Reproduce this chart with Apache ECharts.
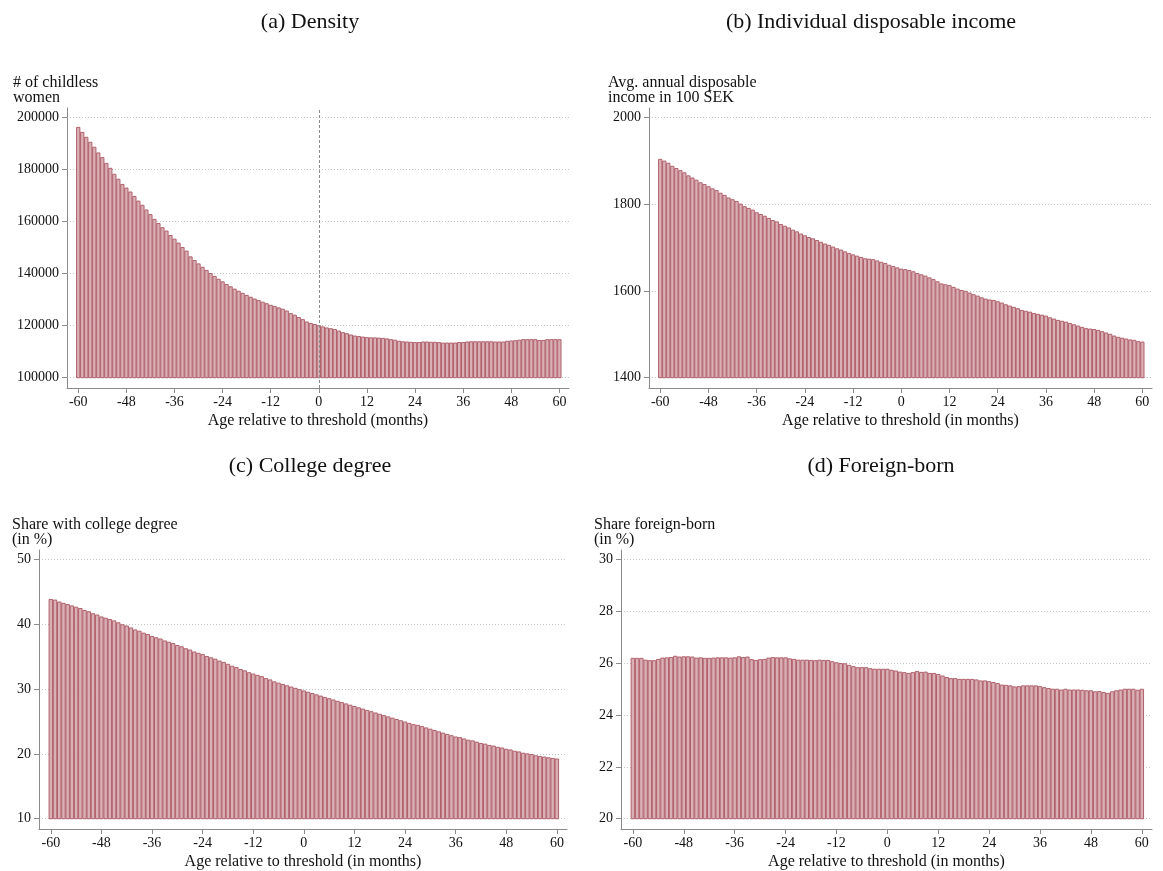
<!DOCTYPE html>
<html>
<head>
<meta charset="utf-8">
<title>Balance around the age threshold</title>
<script src="https://cdn.jsdelivr.net/npm/echarts@6/dist/echarts.min.js"></script>
<style>
  html, body { margin: 0; padding: 0; background: #fff; }
  #chart { width: 1163px; height: 871px; }
</style>
</head>
<body>
<div id="chart"></div>
<script>
// months relative to the threshold, -60 ... 60
const months = []
for (let m = -60; m <= 60; m++) months.push(m)

const xTicks = [-60, -48, -36, -24, -12, 0, 12, 24, 36, 48, 60]

// (a) number of childless women
const densityTicks = [100000, 120000, 140000, 160000, 180000, 200000]
const density = [
  196100, 194200, 192300, 190400, 188500, 186300, 184500, 182300, 180400, 178100,
  176200, 174200, 172800, 171300, 169600, 167800, 166200, 164400, 162600, 160800,
  159200, 157600, 156300, 154600, 153200, 151700, 150000, 148600, 146400, 145000,
  143700, 142400, 141200, 140000, 138900, 137800, 136800, 135800, 134900, 134000,
  133200, 132400, 131600, 130900, 130200, 129600, 129000, 128400, 127800, 127300,
  126800, 126300, 125600, 124600, 124000, 123100, 122300, 121400, 120800, 120400,
  120000, 119500, 119100, 118800, 118500, 117900, 117300, 116900, 116400, 116000,
  115800, 115600, 115400, 115300, 115300, 115200, 115100, 114900, 114600, 114400,
  114000, 113800, 113700, 113600, 113500, 113500, 113700, 113700, 113600, 113600,
  113500, 113300, 113300, 113300, 113300, 113500, 113500, 113700, 113800, 113800,
  113800, 113800, 113800, 113800, 113700, 113700, 113700, 114000, 114100, 114200,
  114400, 114600, 114600, 114600, 114600, 114300, 114300, 114600, 114600, 114600,
  114600
]

// (b) avg. annual disposable income, 100 SEK
const incomeTicks = [1400, 1600, 1800, 2000]
const income = [
  1903, 1899, 1894, 1887, 1882, 1877, 1872, 1865, 1860, 1855,
  1849, 1845, 1840, 1835, 1831, 1825, 1820, 1814, 1810, 1806,
  1800, 1794, 1790, 1786, 1780, 1776, 1772, 1767, 1762, 1759,
  1753, 1749, 1745, 1740, 1736, 1731, 1727, 1723, 1720, 1716,
  1712, 1708, 1705, 1701, 1697, 1694, 1690, 1686, 1683, 1680,
  1677, 1674, 1673, 1672, 1669, 1666, 1663, 1659, 1656, 1653,
  1650, 1649, 1647, 1644, 1640, 1637, 1634, 1630, 1626, 1621,
  1616, 1614, 1612, 1608, 1604, 1601, 1599, 1595, 1591, 1588,
  1584, 1581, 1579, 1578, 1575, 1572, 1568, 1565, 1562, 1559,
  1555, 1553, 1551, 1548, 1546, 1544, 1542, 1538, 1535, 1532,
  1530, 1528, 1525, 1522, 1519, 1516, 1513, 1512, 1511, 1509,
  1506, 1503, 1500, 1496, 1493, 1491, 1489, 1487, 1486, 1483,
  1482
]

// (c) share with college degree, %
const collegeTicks = [10, 20, 30, 40, 50]
const college = [
  43.8, 43.7, 43.4, 43.2, 43.0, 42.8, 42.6, 42.4, 42.1, 41.9,
  41.6, 41.4, 41.1, 40.9, 40.7, 40.5, 40.2, 39.9, 39.7, 39.4,
  39.1, 38.9, 38.6, 38.4, 38.1, 37.9, 37.7, 37.4, 37.2, 37.0,
  36.7, 36.5, 36.2, 36.0, 35.7, 35.5, 35.3, 35.0, 34.8, 34.6,
  34.3, 34.1, 33.8, 33.5, 33.3, 33.0, 32.8, 32.5, 32.3, 32.1,
  31.9, 31.6, 31.4, 31.1, 30.9, 30.7, 30.5, 30.3, 30.1, 29.9,
  29.7, 29.5, 29.3, 29.1, 28.9, 28.7, 28.5, 28.3, 28.1, 27.9,
  27.7, 27.5, 27.3, 27.1, 26.9, 26.7, 26.5, 26.3, 26.1, 25.9,
  25.7, 25.5, 25.3, 25.1, 24.9, 24.7, 24.5, 24.4, 24.2, 24.0,
  23.8, 23.6, 23.4, 23.2, 23.0, 22.8, 22.6, 22.5, 22.3, 22.1,
  22.0, 21.8, 21.6, 21.5, 21.3, 21.2, 21.0, 20.9, 20.7, 20.6,
  20.4, 20.3, 20.1, 20.0, 19.9, 19.7, 19.6, 19.5, 19.4, 19.3,
  19.2
]

// (d) share foreign-born, %
const foreignTicks = [20, 22, 24, 26, 28, 30]
const foreign = [
  26.18, 26.18, 26.18, 26.11, 26.09, 26.09, 26.14, 26.19, 26.20, 26.21,
  26.26, 26.23, 26.24, 26.24, 26.23, 26.19, 26.20, 26.18, 26.18, 26.19,
  26.20, 26.20, 26.20, 26.19, 26.20, 26.24, 26.21, 26.23, 26.13, 26.10,
  26.13, 26.14, 26.19, 26.21, 26.20, 26.20, 26.20, 26.16, 26.14, 26.11,
  26.11, 26.11, 26.10, 26.09, 26.11, 26.10, 26.10, 26.05, 26.01, 25.98,
  25.97, 25.91, 25.86, 25.82, 25.82, 25.82, 25.78, 25.76, 25.76, 25.76,
  25.76, 25.72, 25.69, 25.65, 25.63, 25.60, 25.63, 25.67, 25.64, 25.65,
  25.60, 25.60, 25.56, 25.50, 25.44, 25.40, 25.40, 25.37, 25.37, 25.37,
  25.37, 25.35, 25.31, 25.31, 25.28, 25.25, 25.21, 25.15, 25.14, 25.12,
  25.08, 25.09, 25.12, 25.12, 25.12, 25.12, 25.09, 25.05, 25.02, 24.99,
  24.99, 24.96, 24.99, 24.96, 24.96, 24.96, 24.95, 24.93, 24.93, 24.89,
  24.90, 24.86, 24.83, 24.89, 24.93, 24.96, 24.99, 24.99, 24.99, 24.95,
  24.99
]

// 样式
const FONT = '"Liberation Serif", "Times New Roman", serif'
const BAR_FILL = '#d9b0b5'
const BAR_EDGE = '#b0606b'
const AXIS_GREY = '#8a8a8a'
const X_MIN = -62.8
const X_MAX = 62.4

const panels = [
  {
    values: density, ticks: densityTicks, cutoff: true,
    grid: { left: 67, top: 108, width: 502, height: 280 },
    xName: 'Age relative to threshold (months)',
    yName: '# of childless\nwomen', yNameAt: [13, 75],
    title: '(a) Density', titleAt: [310, 22]
  },
  {
    values: income, ticks: incomeTicks, cutoff: false,
    grid: { left: 649, top: 108, width: 503, height: 280 },
    xName: 'Age relative to threshold (in months)',
    yName: 'Avg. annual disposable\nincome in 100 SEK', yNameAt: [608, 75],
    title: '(b) Individual disposable income', titleAt: [871, 22]
  },
  {
    values: college, ticks: collegeTicks, cutoff: false,
    grid: { left: 39, top: 550, width: 528, height: 280 },
    xName: 'Age relative to threshold (in months)',
    yName: 'Share with college degree\n(in %)', yNameAt: [12, 517],
    title: '(c) College degree', titleAt: [310, 466]
  },
  {
    values: foreign, ticks: foreignTicks, cutoff: false,
    grid: { left: 621, top: 550, width: 531, height: 280 },
    xName: 'Age relative to threshold (in months)',
    yName: 'Share foreign-born\n(in %)', yNameAt: [594, 517],
    title: '(d) Foreign-born', titleAt: [881, 466]
  }
]

// 柱子从最低刻度画起（Stata 风格）
const barRenderer = (base) => (params, api) => {
  const top = api.coord([api.value(0), api.value(1)])
  const bottom = api.coord([api.value(0), base])
  const w = api.size([1, 0])[0] * 0.82
  return {
    type: 'rect',
    shape: { x: top[0] - w / 2, y: top[1], width: w, height: bottom[1] - top[1] },
    style: { fill: BAR_FILL, stroke: BAR_EDGE, lineWidth: 1 }
  }
}

const chart = echarts.init(document.getElementById('chart'), null, { renderer: 'canvas' })

const grid = panels.map(p => p.grid)

const xAxis = panels.map((p, i) => ({
  type: 'value',
  gridIndex: i,
  min: X_MIN,
  max: X_MAX,
  name: p.xName,
  nameLocation: 'middle',
  nameGap: 25,
  nameTextStyle: { fontFamily: FONT, fontSize: 16, color: '#111' },
  axisLine: { show: true, onZero: false, lineStyle: { color: AXIS_GREY, width: 1 } },
  axisTick: { show: true, length: 5, customValues: xTicks, lineStyle: { color: AXIS_GREY } },
  axisLabel: { customValues: xTicks, margin: 7, fontFamily: FONT, fontSize: 14, color: '#111', formatter: v => String(v) },
  splitLine: { show: false }
}))

const yAxis = panels.map((p, i) => {
  const lo = p.ticks[0]
  const hi = p.ticks[p.ticks.length - 1]
  const span = hi - lo
  return {
    type: 'value',
    gridIndex: i,
    min: lo - 0.0395 * span,
    max: hi + 0.0355 * span,
    axisLine: { show: true, onZero: false, lineStyle: { color: AXIS_GREY, width: 1 } },
    axisTick: { show: true, length: 5, customValues: p.ticks, lineStyle: { color: AXIS_GREY } },
    axisLabel: { customValues: p.ticks, margin: 8, fontFamily: FONT, fontSize: 14, color: '#111', formatter: v => String(v) },
    splitLine: { show: true, lineStyle: { color: '#c4c4c4', width: 1, type: [1, 2] } }
  }
})

const series = panels.map((p, i) => {
  const s = {
    type: 'custom',
    xAxisIndex: i,
    yAxisIndex: i,
    clip: true,
    renderItem: barRenderer(p.ticks[0]),
    data: months.map((m, k) => [m, p.values[k]])
  }
  if (p.cutoff) {
    s.markLine = {
      silent: true,
      symbol: 'none',
      label: { show: false },
      lineStyle: { color: '#8c8c8c', width: 1, type: [3, 2] },
      data: [{ xAxis: 0 }]
    }
  }
  return s
})

const graphic = []
panels.forEach(p => {
  graphic.push({
    type: 'text', x: p.titleAt[0], y: p.titleAt[1],
    style: { text: p.title, fontFamily: FONT, fontSize: 22, fill: '#111', align: 'center', verticalAlign: 'middle' }
  })
  graphic.push({
    type: 'text', x: p.yNameAt[0], y: p.yNameAt[1],
    style: { text: p.yName, fontFamily: FONT, fontSize: 16, lineHeight: 15, fill: '#111', align: 'left', verticalAlign: 'top' }
  })
})

chart.setOption({
  animation: false,
  textStyle: { fontFamily: FONT },
  grid,
  xAxis,
  yAxis,
  series,
  graphic
})

window.addEventListener('resize', () => chart.resize())
</script>
</body>
</html>
